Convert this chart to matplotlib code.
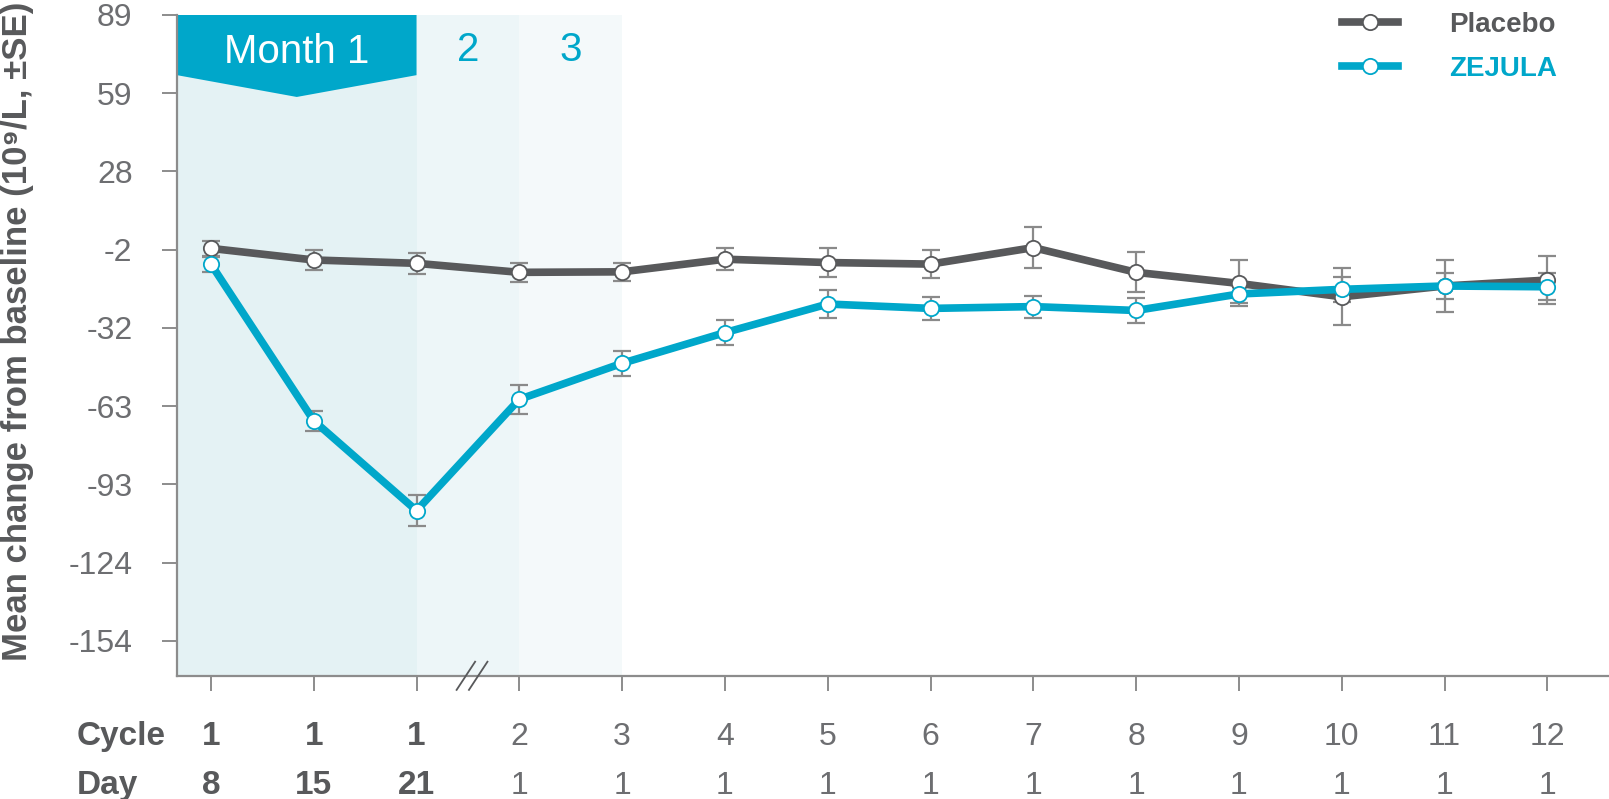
import numpy as np
import matplotlib
matplotlib.use("Agg")
import matplotlib.pyplot as plt
import matplotlib.transforms as mtransforms

# data
cycles = ['1', '1', '1', '2', '3', '4', '5', '6', '7', '8', '9', '10', '11', '12']
days = ['8', '15', '21', '1', '1', '1', '1', '1', '1', '1', '1', '1', '1', '1']
bold_cols = [0, 1, 2]

placebo = [-1.6, -6.1, -7.4, -10.9, -10.7, -5.8, -7.1, -7.7, -1.3, -10.9, -15.2, -20.4, -16.2, -13.9]
placebo_se = [3.0, 4.0, 4.0, 3.6, 3.6, 4.2, 5.5, 5.4, 8.0, 7.8, 8.9, 11.0, 10.1, 9.4]
zejula = [-7.7, -68.5, -103.4, -60.2, -46.2, -34.3, -23.2, -24.9, -24.2, -25.7, -19.3, -17.5, -16.2, -16.5]
zejula_se = [2.9, 3.9, 5.9, 5.7, 4.9, 4.9, 5.4, 4.5, 4.3, 4.7, 3.5, 4.9, 5.2, 5.2]

ytick_vals = np.linspace(89, -154, 9)
ytick_labels = ['89', '59', '28', '-2', '-32', '-63', '-93', '-124', '-154']

GREY = '#58595B'
TEAL = '#00A7CA'
LIGHT = '#6d6e71'
SPINE = '#8c8c8c'

plt.rcParams['font.family'] = ['Liberation Sans', 'DejaVu Sans']
NARROW = ['Liberation Sans Narrow', 'Liberation Sans', 'DejaVu Sans']

fig = plt.figure(figsize=(16.09, 7.99), dpi=100)
ax = fig.add_axes([177/1609, 1-676/799, 1432/1609, 661/799])

x = np.arange(len(cycles))
xmin, xmax = -0.33, 13.6
ax.set_xlim(xmin, xmax)
ax.set_ylim(-167.6, 89)

# shaded month bands
ax.axvspan(xmin, 2, color='#e4f2f4', lw=0, zorder=0)
ax.axvspan(2, 3, color='#edf6f8', lw=0, zorder=0)
ax.axvspan(3, 4, color='#f4f9fa', lw=0, zorder=0)

# Month 1 banner
trans = mtransforms.blended_transform_factory(ax.transData, ax.transAxes)
mid = (xmin + 2) / 2
banner = plt.Polygon([(xmin, 1.0), (2, 1.0), (2, 0.909), (mid, 0.876), (xmin, 0.909)],
                     closed=True, facecolor=TEAL, edgecolor='none', transform=trans,
                     zorder=1, clip_on=False)
ax.add_patch(banner)
ax.text(mid, 0.927, 'Month 1', transform=trans, ha='center', va='baseline',
        color='white', fontsize=29)
ax.text(2.5, 0.930, '2', transform=trans, ha='center', va='baseline', color=TEAL, fontsize=29)
ax.text(3.5, 0.930, '3', transform=trans, ha='center', va='baseline', color=TEAL, fontsize=29)

# error bars
ax.errorbar(x, placebo, yerr=placebo_se, fmt='none', ecolor='#8a8a8a',
            elinewidth=1.6, capsize=6.5, capthick=1.6, zorder=2)
ax.errorbar(x, zejula, yerr=zejula_se, fmt='none', ecolor='#8a8a8a',
            elinewidth=1.6, capsize=6.5, capthick=1.6, zorder=2)

ax.plot(x, placebo, color=GREY, lw=5.5, marker='o', ms=11, mfc='white',
        mec=GREY, mew=1.3, zorder=3, label='Placebo')
ax.plot(x, zejula, color=TEAL, lw=5.5, marker='o', ms=11, mfc='white',
        mec=TEAL, mew=1.3, zorder=4, label='ZEJULA')

# axes styling
for s in ['top', 'right']:
    ax.spines[s].set_visible(False)
for s in ['left', 'bottom']:
    ax.spines[s].set_color(SPINE)
    ax.spines[s].set_linewidth(1.6)

ax.set_yticks(ytick_vals)
ax.set_yticklabels(ytick_labels)
ax.set_xticks(x)
ax.set_xticklabels([])
ax.tick_params(axis='both', colors=SPINE, length=11, width=1.4)
ax.tick_params(axis='y', labelcolor=LIGHT, labelsize=23, pad=21)

# axis break mark
for dx in [0.0, 0.12]:
    ax.plot([2.39 + dx, 2.57 + dx], [-0.021, 0.0216], color=GREY, lw=1.3,
            transform=trans, clip_on=False, zorder=5)

# bottom label rows
btrans = mtransforms.blended_transform_factory(ax.transData, fig.transFigure)
fig.text(77/1609, 1-745/799, 'Cycle', ha='left', va='baseline', color=GREY,
         fontsize=24, fontweight='bold', family=NARROW)
fig.text(77/1609, 1-794/799, 'Day', ha='left', va='baseline', color=GREY,
         fontsize=24, fontweight='bold', family=NARROW)
for i in range(len(cycles)):
    if i in bold_cols:
        kw = dict(fontweight='bold', family=NARROW, color=GREY, fontsize=24)
    else:
        kw = dict(color=LIGHT, fontsize=23)
    ax.text(x[i], 1-745/799, cycles[i], transform=btrans, ha='center',
            va='baseline', **kw)
    ax.text(x[i], 1-794/799, days[i], transform=btrans, ha='center',
            va='baseline', **kw)

# y label
fig.text(18/1609, 0.585, 'Mean change from baseline (10⁹/L, ±SE)', rotation=90,
         ha='center', va='center', color=GREY, fontsize=25, fontweight='bold',
         family=NARROW)

leg = ax.legend(loc='upper left', bbox_to_anchor=(1342/1609, 0.985),
                bbox_transform=fig.transFigure, frameon=False,
                handlelength=2.0, handletextpad=1.85, labelspacing=0.65,
                borderpad=0, borderaxespad=0,
                prop={'family': NARROW, 'weight': 'bold', 'size': 20},
                labelcolor=[GREY, TEAL])

fig.savefig('out.png', dpi=100)
